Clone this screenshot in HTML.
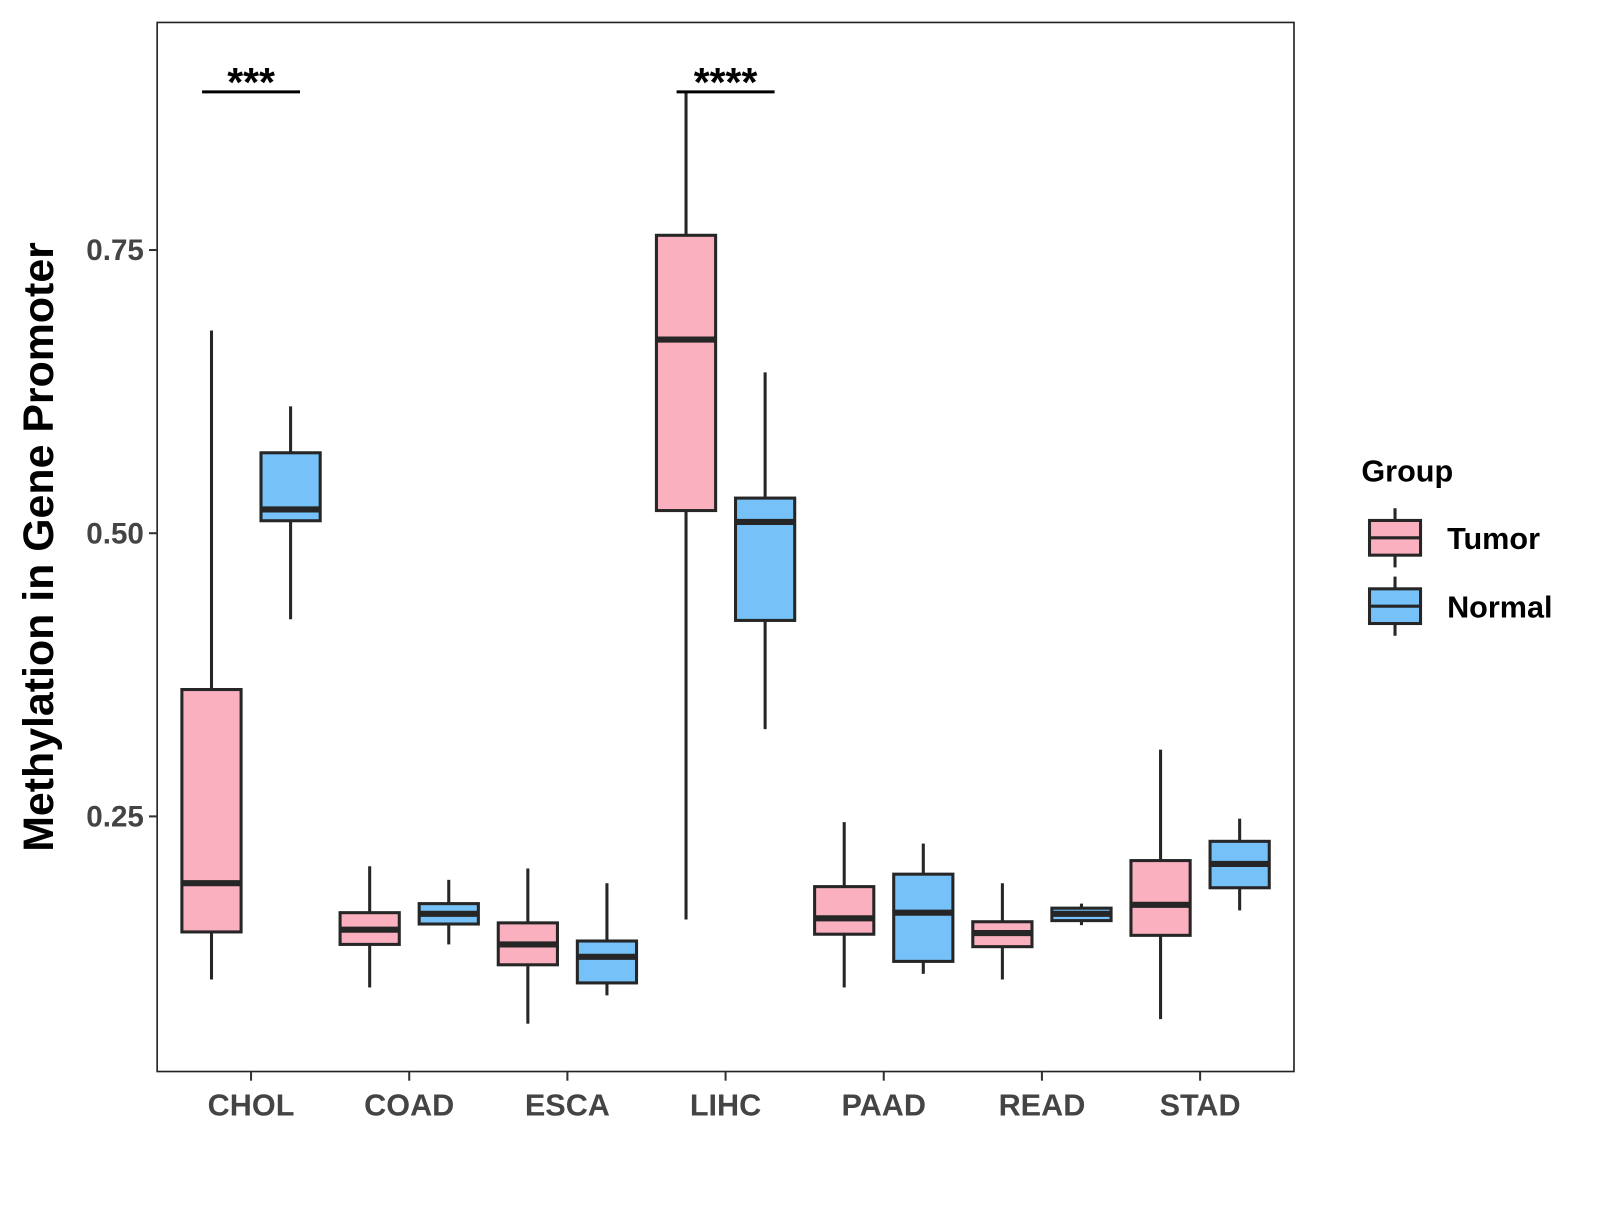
<!DOCTYPE html>
<html><head><meta charset="utf-8"><style>
html,body{margin:0;padding:0;background:#fff}
svg text{font-family:"Liberation Sans",Arial,sans-serif;font-weight:bold}
</style></head><body>
<svg id="chart" width="1600" height="1200" xmlns="http://www.w3.org/2000/svg">
<rect x="0" y="0" width="1600" height="1200" fill="#fff"/>
<g id="plot" transform="scale(1.0205)"></g>
</svg>
<script>
const categories=["CHOL","COAD","ESCA","LIHC","PAAD","READ","STAD"];
const tumorLow=[0.106,0.099,0.067,0.159,0.099,0.106,0.071];
const tumorQ1=[0.148,0.137,0.119,0.520,0.146,0.135,0.145];
const tumorMed=[0.191,0.150,0.137,0.671,0.160,0.147,0.172];
const tumorQ3=[0.362,0.165,0.156,0.763,0.188,0.157,0.211];
const tumorHigh=[0.679,0.206,0.204,0.890,0.245,0.191,0.309];
const normalLow=[0.424,0.137,0.092,0.327,0.111,0.154,0.167];
const normalQ1=[0.511,0.155,0.103,0.423,0.122,0.158,0.187];
const normalMed=[0.521,0.164,0.126,0.510,0.165,0.164,0.208];
const normalQ3=[0.571,0.173,0.140,0.531,0.199,0.169,0.228];
const normalHigh=[0.612,0.194,0.191,0.642,0.226,0.173,0.248];
const yTicks=[0.25,0.50,0.75];
const yTickLabels=["0.25","0.50","0.75"];
const sigCats=["CHOL","LIHC"];
const sigLabels=["***","****"];

const NS="http://www.w3.org/2000/svg";
const g=document.getElementById('plot');
const L=154,R=1268,T=22,B=1050;
function y(v){return 800-(v-0.25)*1110;}
function x(i){return 246+i*155;}
function mk(tag,attrs,parent){const e=document.createElementNS(NS,tag);for(const k in attrs)e.setAttribute(k,attrs[k]);(parent||g).appendChild(e);return e;}
const col="#262626";

const panel=mk('rect',{x:L,y:T,width:R-L,height:B-T,fill:'none',stroke:'#222','stroke-width':1.6});



yTicks.forEach((v,i)=>{
  const t=mk('line',{x1:L-8,x2:L,y1:y(v),y2:y(v),stroke:'#333','stroke-width':2});
  
  
  const lb=mk('text',{x:L-13,y:y(v)+10,'text-anchor':'end','font-size':29,fill:'#444'});
  lb.textContent=yTickLabels[i];
  
  
});
categories.forEach((c,i)=>{
  const t=mk('line',{x1:x(i),x2:x(i),y1:B,y2:B+9,stroke:'#333','stroke-width':2});
  
  
  const lb=mk('text',{x:x(i),y:B+43,'text-anchor':'middle','font-size':30,fill:'#444'});
  lb.textContent=c;
  
  
});
const yt=mk('text',{x:0,y:0,'text-anchor':'middle','font-size':42,fill:'#000',transform:'translate(52,536) rotate(-90)'});
yt.textContent='Methylation in Gene Promoter';



function box(cx,lo,q1,md,q3,hi,fill,name){
  const grp=mk('g',{});
  
  
  const hw=29;
  mk('line',{x1:cx,x2:cx,y1:y(hi),y2:y(q3),stroke:col,'stroke-width':3},grp);
  mk('line',{x1:cx,x2:cx,y1:y(q1),y2:y(lo),stroke:col,'stroke-width':3},grp);
  mk('rect',{x:cx-hw,y:y(q3),width:hw*2,height:Math.max(y(q1)-y(q3),1),fill:fill,stroke:col,'stroke-width':3},grp);
  mk('line',{x1:cx-hw,x2:cx+hw,y1:y(md),y2:y(md),stroke:col,'stroke-width':6},grp);
}
categories.forEach((c,i)=>{
  box(x(i)-38.75,tumorLow[i],tumorQ1[i],tumorMed[i],tumorQ3[i],tumorHigh[i],'#FBB0C0','tumor-box-'+c.toLowerCase());
  box(x(i)+38.75,normalLow[i],normalQ1[i],normalMed[i],normalQ3[i],normalHigh[i],'#76C2F8','normal-box-'+c.toLowerCase());
});
sigCats.forEach((c,k)=>{
  const i=categories.indexOf(c);
  const ln=mk('line',{x1:x(i)-48,x2:x(i)+48,y1:90,y2:90,stroke:'#000','stroke-width':3});
  
  
  const tx=mk('text',{x:x(i),y:94,'text-anchor':'middle','font-size':40,fill:'#000'});
  tx.textContent=sigLabels[k];
  
  
});
const lt=mk('text',{x:1334,y:472,'font-size':30,fill:'#000'});
lt.textContent='Group';


[["Tumor","#FBB0C0",527],["Normal","#76C2F8",594]].forEach(([n,f,cy])=>{
  const e=mk('g',{});
  
  
  mk('line',{x1:1367,x2:1367,y1:cy-29,y2:cy+29,stroke:col,'stroke-width':3},e);
  mk('rect',{x:1342,y:cy-17,width:50,height:34,fill:f,stroke:col,'stroke-width':3},e);
  mk('line',{x1:1342,x2:1392,y1:cy,y2:cy,stroke:col,'stroke-width':3},e);
  const t=mk('text',{x:1418,y:cy+11,'font-size':30,fill:'#000'},e);
  t.textContent=n;
});
</script>
</body></html>
